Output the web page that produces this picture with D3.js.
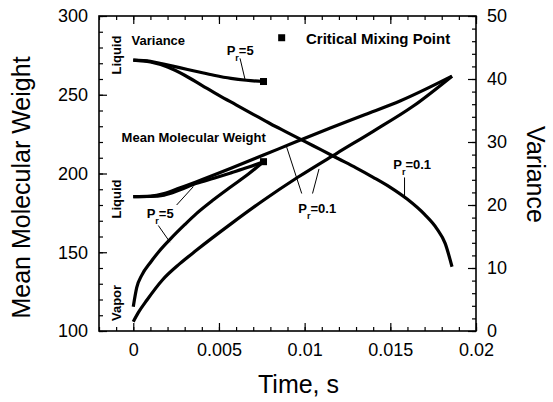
<!DOCTYPE html>
<html>
<head>
<meta charset="utf-8">
<script src="https://cdn.jsdelivr.net/npm/d3@7"></script>
<style>
  html, body { margin: 0; padding: 0; background: #fff; }
  svg { display: block; font-family: "Liberation Sans", Arial, Helvetica, sans-serif; }
</style>
</head>
<body>
<div id="chart"></div>
<script>
// tick labels
const timeTicks = [0, 0.005, 0.01, 0.015, 0.02];
const timeTickLabels = ['0', '0.005', '0.01', '0.015', '0.02'];
const mwTicks = [100, 150, 200, 250, 300];
const varTicks = [0, 10, 20, 30, 40, 50];

// variance curves (right axis) : [time, variance]
const varPr5 = [[0, 43.0], [0.001, 42.8], [0.0017, 42.4], [0.0027, 41.8], [0.0037, 41.2], [0.0047, 40.6], [0.0057, 40.1],
    [0.0066, 39.8], [0.0076, 39.6]];
const varPr01 = [[0, 43.0], [0.001, 42.7], [0.002, 41.9], [0.003, 40.6], [0.004, 39.0], [0.005, 37.4], [0.006, 35.9],
    [0.007, 34.4], [0.008, 32.9], [0.009, 31.5], [0.010, 30.1], [0.011, 28.7], [0.012, 27.3], [0.013, 25.9],
    [0.014, 24.4], [0.015, 22.8], [0.016, 20.9], [0.017, 18.5], [0.0177, 16.3], [0.0182, 13.9], [0.0186, 10.2]];

// mean molecular weight curves (left axis) : [time, MW]
const mwLiquidPr5 = [[0, 185.3], [0.001, 185.4], [0.0018, 186.3], [0.0027, 189.5], [0.0037, 193.8], [0.0047, 197.0],
    [0.0057, 200.4], [0.0067, 203.9], [0.0076, 207.5]];
const mwVaporPr5 = [[0, 115.4], [0.0002, 127.5], [0.0005, 135.5], [0.001, 143.5], [0.0015, 150.5], [0.0022, 158.8],
    [0.003, 167.5], [0.0037, 174.7], [0.0047, 183.5], [0.0057, 191.6], [0.0067, 199.5], [0.0076, 207.5]];
const mwLiquidPr01 = [[0, 185.3], [0.001, 185.6], [0.0018, 187.2], [0.0027, 190.8], [0.0037, 194.8], [0.0057, 203.3],
    [0.0076, 211.7], [0.0096, 220.6], [0.0115, 228.9], [0.0135, 237.3], [0.0156, 246.2], [0.0186, 261.8]];
const mwVaporPr01 = [[0, 105.9], [0.0003, 111.8], [0.0008, 119.7], [0.0017, 132.4], [0.0027, 142.6], [0.0037, 151.4],
    [0.0057, 168.0], [0.0076, 183.0], [0.0096, 197.6], [0.0119, 213.0], [0.014, 226.8], [0.0163, 242.5], [0.0186, 261.8]];

// critical mixing points
const criticalMW = [[0.0076, 207.5]];
const criticalVar = [[0.0076, 39.6]];

const width = 553, height = 402;
const margin = { top: 16, right: 77, bottom: 71, left: 99 };

const svg = d3.select('#chart').append('svg')
    .attr('width', width)
    .attr('height', height);

const x = d3.scaleLinear().domain([-0.002, 0.02]).range([margin.left, width - margin.right]);
const yL = d3.scaleLinear().domain([100, 300]).range([height - margin.bottom, margin.top]);
const yR = d3.scaleLinear().domain([0, 50]).range([height - margin.bottom, margin.top]);

const x0 = x.range()[0], x1 = x.range()[1];
const y0 = yL.range()[0], y1 = yL.range()[1];

// Axes (ticks point inward)
function styleAxis(g) {
    g.select('.domain').remove();
    g.selectAll('.tick line').attr('stroke', '#000').attr('stroke-width', 1.2);
    g.selectAll('text').attr('fill', '#000').style('font-size', '18px');
}

svg.append('g').attr('transform', `translate(0,${y0})`)
    .call(d3.axisBottom(x).tickValues(x.ticks(22)).tickSize(-4).tickFormat(''))
    .call(styleAxis);
svg.append('g').attr('transform', `translate(0,${y0})`)
    .call(d3.axisBottom(x).tickValues(timeTicks).tickSize(-8).tickPadding(12)
        .tickFormat((d, i) => timeTickLabels[i]))
    .call(styleAxis);
svg.append('g').attr('transform', `translate(0,${y1})`)
    .call(d3.axisTop(x).tickValues(x.ticks(22)).tickSize(-4).tickFormat(''))
    .call(styleAxis);
svg.append('g').attr('transform', `translate(0,${y1})`)
    .call(d3.axisTop(x).tickValues(timeTicks).tickSize(-8).tickFormat(''))
    .call(styleAxis);

svg.append('g').attr('transform', `translate(${x0},0)`)
    .call(d3.axisLeft(yL).tickValues(yL.ticks(20)).tickSize(-4).tickFormat(''))
    .call(styleAxis);
svg.append('g').attr('transform', `translate(${x0},0)`)
    .call(d3.axisLeft(yL).tickValues(mwTicks).tickSize(-8).tickPadding(11).tickFormat(d3.format('d')))
    .call(styleAxis);

svg.append('g').attr('transform', `translate(${x1},0)`)
    .call(d3.axisRight(yR).tickValues(yR.ticks(25)).tickSize(-4).tickFormat(''))
    .call(styleAxis);
svg.append('g').attr('transform', `translate(${x1},0)`)
    .call(d3.axisRight(yR).tickValues(varTicks).tickSize(-8).tickPadding(11).tickFormat(d3.format('d')))
    .call(styleAxis);

// frame
svg.append('rect')
    .attr('x', x0).attr('y', y1)
    .attr('width', x1 - x0).attr('height', y0 - y1)
    .attr('fill', 'none').attr('stroke', '#000').attr('stroke-width', 1.6);

// axis titles
svg.append('text')
    .attr('transform', `translate(30,${(y0 + y1) / 2 + 14}) rotate(-90)`)
    .attr('text-anchor', 'middle')
    .style('font-size', '25px')
    .text('Mean Molecular Weight');
svg.append('text')
    .attr('transform', `translate(527,${(y0 + y1) / 2 + 1}) rotate(90)`)
    .attr('text-anchor', 'middle')
    .style('font-size', '25px')
    .text('Variance');
svg.append('text')
    .attr('x', (x0 + x1) / 2 + 11).attr('y', 393)
    .attr('text-anchor', 'middle')
    .style('font-size', '25px')
    .text('Time, s');

// curves
const lineL = d3.line().x(d => x(d[0])).y(d => yL(d[1])).curve(d3.curveMonotoneX);
const lineR = d3.line().x(d => x(d[0])).y(d => yR(d[1])).curve(d3.curveMonotoneX);

const curves = svg.append('g')
    .attr('fill', 'none').attr('stroke', '#000').attr('stroke-width', 3.2)
    .attr('stroke-linejoin', 'round');

[varPr5, varPr01].forEach(d => curves.append('path').datum(d).attr('d', lineR));
[mwLiquidPr5, mwVaporPr5, mwLiquidPr01, mwVaporPr01].forEach(d => curves.append('path').datum(d).attr('d', lineL));

// critical mixing point markers
const sq = 7;
svg.selectAll('.crit-mw').data(criticalMW).enter().append('rect')
    .attr('x', d => x(d[0]) - sq / 2).attr('y', d => yL(d[1]) - sq / 2)
    .attr('width', sq).attr('height', sq).attr('fill', '#000');
svg.selectAll('.crit-var').data(criticalVar).enter().append('rect')
    .attr('x', d => x(d[0]) - sq / 2).attr('y', d => yR(d[1]) - sq / 2)
    .attr('width', sq).attr('height', sq).attr('fill', '#000');

// legend
svg.append('rect')
    .attr('x', x(0.00866) - sq / 2).attr('y', yL(286.2) - sq / 2)
    .attr('width', sq).attr('height', sq).attr('fill', '#000');
svg.append('text')
    .attr('x', x(0.01008)).attr('y', yL(282.0))
    .style('font-size', '15px').style('font-weight', 'bold')
    .text('Critical Mixing Point');

// in-plot labels
const labels = svg.append('g').style('font-size', '13px').style('font-weight', 'bold');

labels.append('text').attr('x', x(-0.0001)).attr('y', yL(281.6)).text('Variance');
labels.append('text').attr('x', x(-0.00068)).attr('y', yL(220.2)).text('Mean Molecular Weight');

function rotated(t, mw, txt) {
    labels.append('text')
        .attr('transform', `translate(${x(t)},${yL(mw)}) rotate(-90)`)
        .attr('text-anchor', 'middle')
        .text(txt);
}
rotated(-0.00072, 275.2, 'Liquid');
rotated(-0.00072, 183.8, 'Liquid');
rotated(-0.00072, 117.8, 'Vapor');

function prLabel(t, mw, value) {
    const txt = labels.append('text').attr('x', x(t)).attr('y', yL(mw));
    txt.append('tspan').text('P');
    txt.append('tspan').attr('dy', 6).style('font-size', '9px').text('r');
    txt.append('tspan').attr('dy', -6).text('=' + value);
}
prLabel(0.00545, 275.2, '5');
prLabel(0.00078, 171.6, '5');
prLabel(0.00963, 175.1, '0.1');
prLabel(0.01517, 203.0, '0.1');

// leader lines : [t1, mw1, t2, mw2]
const leaders = [
    [0.00623, 273.1, 0.00652, 259.8],
    [0.00253, 180.0, 0.0035, 191.6],
    [0.00146, 167.0, 0.00214, 156.4],
    [0.00983, 187.3, 0.00895, 216.8],
    [0.01046, 187.3, 0.01084, 202.9],
    [0.01583, 197.5, 0.01583, 184.1]
];
svg.append('g').selectAll('line').data(leaders).enter().append('line')
    .attr('x1', d => x(d[0])).attr('y1', d => yL(d[1]))
    .attr('x2', d => x(d[2])).attr('y2', d => yL(d[3]))
    .attr('stroke', '#000').attr('stroke-width', 1);
</script>
</body>
</html>
